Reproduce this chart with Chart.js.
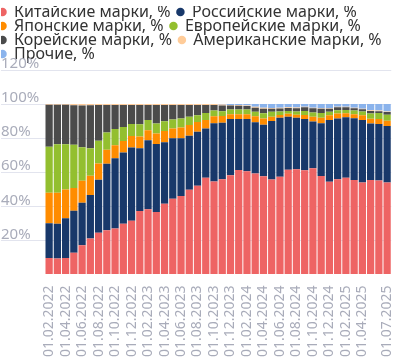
<!DOCTYPE html>
<html>
<head>
<meta charset="utf-8">
<script src="https://cdn.jsdelivr.net/npm/chart.js@4/dist/chart.umd.min.js"></script>
<style>
  html, body { margin: 0; padding: 0; background: #fff; }
  #wrap { width: 407px; height: 360px; }
</style>
</head>
<body>
<div id="wrap"><canvas id="myChart"></canvas></div>
<script>
const labels = [
    '01.02.2022', '01.03.2022', '01.04.2022', '01.05.2022', '01.06.2022', '01.07.2022',
    '01.08.2022', '01.09.2022', '01.10.2022', '01.11.2022', '01.12.2022', '01.01.2023',
    '01.02.2023', '01.03.2023', '01.04.2023', '01.05.2023', '01.06.2023', '01.07.2023',
    '01.08.2023', '01.09.2023', '01.10.2023', '01.11.2023', '01.12.2023', '01.01.2024',
    '01.02.2024', '01.03.2024', '01.04.2024', '01.05.2024', '01.06.2024', '01.07.2024',
    '01.08.2024', '01.09.2024', '01.10.2024', '01.11.2024', '01.12.2024', '01.01.2025',
    '01.02.2025', '01.03.2025', '01.04.2025', '01.05.2025', '01.06.2025', '01.07.2025'
];

const chinese = [9.6, 9.4, 9.6, 12.8, 17.2, 21.1, 24.5, 26.0, 27.0, 29.7, 31.5, 37.2, 38.2, 36.7, 41.5, 44.4, 46.0, 49.7, 52.0, 56.8, 54.5,
    55.8, 58.2, 61.3, 60.6, 59.2, 57.7, 55.7, 57.3, 61.5, 61.7, 61.2, 62.3, 57.8, 54.4, 55.8, 56.7, 55.4, 54.0, 55.5, 55.2, 54.0];
const russian = [20.4, 20.3, 23.4, 24.6, 24.9, 25.5, 31.1, 39.0, 41.2, 41.8, 43.0, 36.9, 40.6, 39.9, 36.1, 35.5, 33.9, 31.7, 31.7, 28.8, 34.2,
    33.2, 33.0, 29.9, 30.6, 30.2, 30.1, 34.4, 34.6, 31.1, 30.2, 30.1, 27.4, 31.0, 36.3, 35.8, 35.5, 36.3, 36.7, 33.1, 33.1, 33.2];
const japanese = [17.9, 18.2, 16.8, 13.4, 12.9, 11.3, 9.5, 8.2, 7.7, 6.8, 6.7, 6.8, 5.8, 6.1, 6.6, 5.7, 6.3, 6.3, 5.8, 5.0, 4.2,
    4.0, 2.8, 2.8, 2.8, 3.4, 3.7, 2.5, 1.7, 1.7, 1.9, 2.3, 2.9, 3.2, 2.7, 2.8, 2.4, 2.3, 2.7, 2.8, 2.9, 3.0];
const european = [27.1, 28.5, 26.6, 25.3, 19.7, 16.2, 13.4, 10.1, 9.5, 8.2, 7.1, 7.3, 6.0, 5.9, 5.7, 5.4, 5.4, 4.8, 4.0, 4.2, 3.3,
    2.8, 2.8, 2.8, 2.8, 2.7, 3.1, 2.9, 2.0, 1.7, 1.9, 2.4, 2.4, 2.7, 2.1, 2.0, 1.9, 2.2, 2.2, 3.1, 3.5, 3.6];
const korean = [24.6, 23.2, 23.2, 23.2, 24.5, 25.2, 21.0, 16.2, 14.1, 13.0, 11.2, 11.3, 8.9, 10.9, 9.6, 8.5, 7.9, 7.0, 6.0, 4.7, 3.3,
    3.4, 2.4, 2.2, 2.0, 2.4, 2.7, 1.8, 1.8, 1.7, 1.9, 2.1, 2.5, 2.5, 1.7, 1.7, 1.6, 1.3, 1.3, 1.5, 1.1, 1.5];
const american = [0.4, 0.4, 0.4, 0.7, 0.8, 0.7, 0.5, 0.5, 0.5, 0.5, 0.5, 0.5, 0.5, 0.5, 0.5, 0.5, 0.5, 0.5, 0.5, 0.5, 0.5,
    0.5, 0.3, 0.4, 0.4, 0.5, 0.5, 0.4, 0.4, 0.4, 0.4, 0.3, 0.4, 0.4, 0.4, 0.3, 0.3, 0.4, 0.3, 0.4, 0.4, 0.4];
const others = [0, 0, 0, 0, 0, 0, 0, 0, 0, 0, 0, 0, 0, 0, 0, 0, 0, 0, 0, 0, 0,
    0.3, 0.5, 0.6, 0.8, 1.6, 2.2, 2.3, 2.2, 1.9, 2.0, 1.6, 2.1, 2.4, 2.4, 1.6, 1.6, 2.1, 2.8, 3.6, 3.8, 4.3];

const yTicks = [0, 20, 40, 60, 80, 100, 120];

const fontFamily = "'Noto Sans', 'Open Sans', sans-serif";
const axisColor = '#a9acba';
const gridColor = '#e2e4ee';

function bars(label, data, color) {
    return {
        label: label,
        data: data,
        backgroundColor: color,
        borderWidth: 0,
        categoryPercentage: 1.0,
        barPercentage: 0.88
    };
}

// legend is a bit tighter in the original, the plot starts right under it
const tightLegend = {
    id: 'tightLegend',
    beforeInit(chart) {
        const fit = chart.legend.fit;
        chart.legend.fit = function () {
            fit.call(this);
            this.height -= 2;
        };
    }
};

let ctx = document.getElementById('myChart').getContext('2d');
let myChart = new Chart(ctx, {
    type: 'bar',
    data: {
        labels: labels,
        datasets: [
            bars('Китайские марки, %', chinese, '#ee6464'),
            bars('Российские марки, %', russian, '#18386a'),
            bars('Японские марки, %', japanese, '#ff8c00'),
            bars('Европейские марки, %', european, '#93bf2f'),
            bars('Корейские марки, %', korean, '#4b4b4b'),
            bars('Американские марки, %', american, '#ffcc99'),
            bars('Прочие, %', others, '#8ab3ec')
        ]
    },
    options: {
        responsive: true,
        maintainAspectRatio: false,
        animation: false,
        layout: { padding: { top: 6, left: 1, right: 7, bottom: 0 } },
        plugins: {
            tooltip: { enabled: false },
            legend: {
                position: 'top',
                align: 'start',
                labels: {
                    usePointStyle: true,
                    pointStyle: 'circle',
                    boxWidth: 7,
                    boxHeight: 6,
                    padding: -2,
                    color: '#333',
                    font: { family: fontFamily, size: 16 },
                    generateLabels(chart) {
                        const items = Chart.defaults.plugins.legend.labels.generateLabels(chart);
                        items.forEach(function (it) { it.text = it.text + '  '; });
                        return items;
                    }
                }
            }
        },
        scales: {
            x: {
                stacked: true,
                grid: { display: false },
                border: { display: false },
                ticks: {
                    autoSkip: false,
                    maxRotation: 90,
                    minRotation: 90,
                    padding: 3,
                    color: axisColor,
                    font: { family: fontFamily, size: 14 },
                    callback: function (value, index) {
                        const last = labels.length - 1;
                        if (index === last || (index % 2 === 0 && index < last - 1)) {
                            return labels[index];
                        }
                        return '';
                    }
                }
            },
            y: {
                stacked: true,
                min: yTicks[0],
                max: yTicks[yTicks.length - 1],
                afterBuildTicks: function (scale) {
                    scale.ticks = yTicks.map(function (v) { return { value: v }; });
                },
                afterFit: function (scale) {
                    scale.width = 44;
                },
                grid: {
                    tickLength: 44,
                    color: function (c) { return c.tick && c.tick.value === 0 ? 'rgba(0,0,0,0)' : gridColor; }
                },
                border: { display: false },
                ticks: {
                    crossAlign: 'far',
                    labelOffset: -6,
                    color: axisColor,
                    font: { family: fontFamily, size: 15 },
                    callback: function (value) {
                        return value === 0 ? '' : value + '%';
                    }
                }
            }
        }
    },
    plugins: [tightLegend]
});
</script>
</body>
</html>
